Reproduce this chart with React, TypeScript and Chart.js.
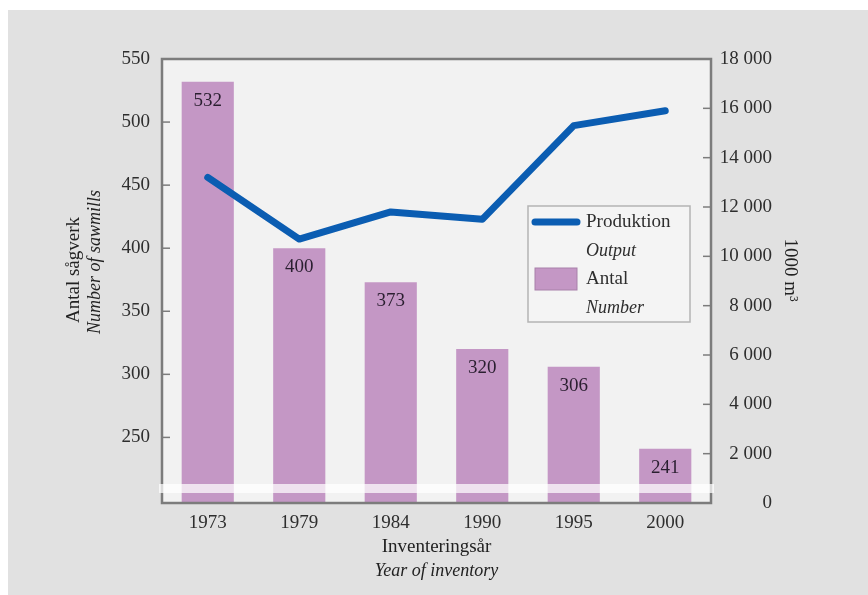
import React, { useEffect, useRef } from 'react';
import { Chart, registerables } from 'chart.js';

Chart.register(...registerables);

const years = ['1973', '1979', '1984', '1990', '1995', '2000'];
const sawmills = [532, 400, 373, 320, 306, 241];
const production = [13200, 10700, 11800, 11500, 15300, 15900];
const leftTicks = [250, 300, 350, 400, 450, 500, 550];
const rightTicks = [0, 2000, 4000, 6000, 8000, 10000, 12000, 14000, 16000, 18000];
const leftMin = 198;
const leftMax = 550;
const rightMin = 0;
const rightMax = 18000;

const FAMILY = '"Liberation Serif", "Times New Roman", serif';
const BLUE = '#0b5db2';
const PURPLE = '#c497c5';
const TEXT = '#2e2e2e';
const AXIS = '#7c7c7c';

function fmt(v: number): string {
  const s = String(Math.round(v));
  return s.replace(/\B(?=(\d{3})+(?!\d))/g, ' ');
}

const decor = {
  id: 'decor',
  beforeDraw(chart: any) {
    const { ctx, chartArea: a, width, height } = chart;
    ctx.save();
    ctx.fillStyle = '#ffffff';
    ctx.fillRect(0, 0, width, height);
    ctx.fillStyle = '#e1e1e1';
    ctx.fillRect(8, 10, width - 8, height - 10);
    ctx.fillStyle = '#f2f2f2';
    ctx.fillRect(a.left, a.top, a.right - a.left, a.bottom - a.top);
    ctx.restore();
  },
  afterDraw(chart: any) {
    const { ctx, chartArea: a } = chart;
    const yL = chart.scales.y;
    const yR = chart.scales.y1;
    ctx.save();
    // bar value labels
    const meta = chart.getDatasetMeta(1);
    ctx.font = `19px ${FAMILY}`;
    ctx.fillStyle = '#2a1f30';
    ctx.textAlign = 'center';
    ctx.textBaseline = 'middle';
    meta.data.forEach((el: any, i: number) => {
      ctx.fillText(String(sawmills[i]), el.x, el.y + 19);
    });
    // frame
    ctx.strokeStyle = AXIS;
    ctx.lineWidth = 2.5;
    ctx.strokeRect(a.left, a.top, a.right - a.left, a.bottom - a.top);
    // tick marks
    ctx.lineWidth = 1.5;
    leftTicks.forEach((v) => {
      if (v >= leftMax) return;
      const y = yL.getPixelForValue(v);
      ctx.beginPath();
      ctx.moveTo(a.left, y);
      ctx.lineTo(a.left + 8, y);
      ctx.stroke();
    });
    rightTicks.forEach((v) => {
      if (v <= rightMin || v >= rightMax) return;
      const y = yR.getPixelForValue(v);
      ctx.beginPath();
      ctx.moveTo(a.right - 8, y);
      ctx.lineTo(a.right, y);
      ctx.stroke();
    });
    // axis break band
    ctx.fillStyle = 'rgba(255,255,255,0.72)';
    ctx.fillRect(a.left - 3, a.bottom - 19, a.right - a.left + 6, 9);

    // legend
    const lx = 528, ly = 206, lw = 162, lh = 116;
    ctx.fillStyle = '#f4f4f4';
    ctx.fillRect(lx, ly, lw, lh);
    ctx.strokeStyle = '#b4b4b4';
    ctx.lineWidth = 1.5;
    ctx.strokeRect(lx, ly, lw, lh);
    ctx.strokeStyle = BLUE;
    ctx.lineWidth = 7;
    ctx.lineCap = 'round';
    ctx.beginPath();
    ctx.moveTo(535, 222);
    ctx.lineTo(577, 222);
    ctx.stroke();
    ctx.fillStyle = PURPLE;
    ctx.fillRect(535, 268, 42, 22);
    ctx.strokeStyle = '#a880a9';
    ctx.lineWidth = 1;
    ctx.strokeRect(535, 268, 42, 22);
    ctx.fillStyle = TEXT;
    ctx.textAlign = 'left';
    ctx.textBaseline = 'middle';
    ctx.font = `19px ${FAMILY}`;
    ctx.fillText('Produktion', 586, 222);
    ctx.fillText('Antal', 586, 279);
    ctx.font = `italic 18px ${FAMILY}`;
    ctx.fillText('Output', 586, 251);
    ctx.fillText('Number', 586, 308);

    // axis titles
    ctx.textAlign = 'center';
    ctx.fillStyle = '#222';
    const cx = (a.left + a.right) / 2;
    ctx.font = `19px ${FAMILY}`;
    ctx.fillText('Inventeringsår', cx, 547);
    ctx.font = `italic 18px ${FAMILY}`;
    ctx.fillText('Year of inventory', cx, 571);

    ctx.save();
    ctx.translate(74, 270);
    ctx.rotate(-Math.PI / 2);
    ctx.font = `19px ${FAMILY}`;
    ctx.fillText('Antal sågverk', 0, 0);
    ctx.restore();

    ctx.save();
    ctx.translate(95, 262);
    ctx.rotate(-Math.PI / 2);
    ctx.font = `italic 18px ${FAMILY}`;
    ctx.fillText('Number of sawmills', 0, 0);
    ctx.restore();

    ctx.save();
    ctx.translate(790, 270);
    ctx.rotate(Math.PI / 2);
    ctx.font = `19px ${FAMILY}`;
    ctx.fillText('1000 m³', 0, 0);
    ctx.restore();

    ctx.restore();
  },
};

export default function App() {
  const ref = useRef<HTMLCanvasElement | null>(null);
  useEffect(() => {
    if (!ref.current) return;
    const chart = new Chart(ref.current, {
      data: {
        labels: years,
        datasets: [
          {
            type: 'line',
            label: 'Produktion',
            data: production,
            yAxisID: 'y1',
            borderColor: BLUE,
            borderWidth: 7,
            pointRadius: 0,
            borderCapStyle: 'round',
            borderJoinStyle: 'round',
            tension: 0,
            order: 0,
          } as any,
          {
            type: 'bar',
            label: 'Antal',
            data: sawmills,
            yAxisID: 'y',
            backgroundColor: PURPLE,
            barPercentage: 0.57,
            categoryPercentage: 1,
            order: 1,
          } as any,
        ],
      },
      options: {
        responsive: false,
        animation: false,
        layout: { padding: { top: 59, left: 0, right: 96, bottom: 0 } },
        plugins: { legend: { display: false }, tooltip: { enabled: false } },
        scales: {
          x: {
            type: 'category',
            grid: { display: false },
            border: { display: false },
            ticks: {
              color: TEXT,
              font: { family: FAMILY, size: 19 },
              padding: 1,
              maxRotation: 0,
            },
            afterFit: (s: any) => {
              s.height = 92;
            },
          },
          y: {
            type: 'linear',
            position: 'left',
            min: leftMin,
            max: leftMax,
            grid: { display: false, drawTicks: false },
            border: { display: false },
            afterBuildTicks: (s: any) => {
              s.ticks = leftTicks.map((v) => ({ value: v }));
            },
            ticks: {
              color: TEXT,
              font: { family: FAMILY, size: 19 },
              padding: 12,
            },
            afterFit: (s: any) => {
              s.width = 162;
            },
          },
          y1: {
            type: 'linear',
            position: 'right',
            min: rightMin,
            max: rightMax,
            grid: { display: false, drawTicks: false },
            border: { display: false },
            afterBuildTicks: (s: any) => {
              s.ticks = rightTicks.map((v) => ({ value: v }));
            },
            ticks: {
              color: TEXT,
              font: { family: FAMILY, size: 19 },
              padding: 8,
              crossAlign: 'far',
              callback: (v: any) => fmt(Number(v)),
            },
            afterFit: (s: any) => {
              s.width = 61;
            },
          },
        },
      } as any,
      plugins: [decor],
    });
    return () => chart.destroy();
  }, []);
  return (
    <div style={{ position: 'fixed', left: 0, top: 0, width: 868, height: 595 }}>
      <canvas ref={ref} width={868} height={595} style={{ display: 'block' }} />
    </div>
  );
}
